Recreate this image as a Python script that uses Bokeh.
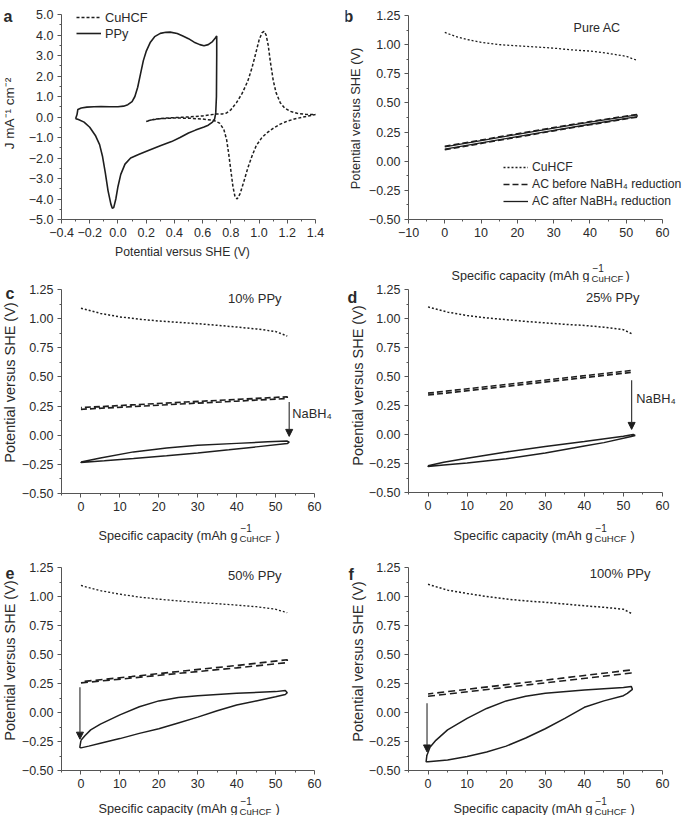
from math import pi
from bokeh.plotting import figure
from bokeh.models import (Range1d, FixedTicker, CustomJSTickFormatter, Label, Legend,
                          LegendItem, Arrow, NormalHead)
from bokeh.layouts import column, row
from bokeh.embed import file_html
from bokeh.resources import INLINE

# ---------------- data ----------------
# panel a : cyclic voltammograms
ppy_v = [-0.30, -0.29, -0.284, -0.26, -0.22, -0.17, -0.12, -0.06, 0.0, 0.04, 0.07, 0.10, 0.12,
         0.14, 0.16, 0.18, 0.20, 0.23, 0.26, 0.30, 0.34, 0.37, 0.42, 0.46, 0.50, 0.54, 0.58,
         0.61, 0.64, 0.67, 0.69, 0.70,
         0.70, 0.698, 0.693, 0.685, 0.67, 0.64, 0.61, 0.55, 0.50, 0.44, 0.38, 0.30, 0.22, 0.15,
         0.09, 0.05, 0.02, 0.0, -0.015, -0.03, -0.04, -0.05, -0.07, -0.09, -0.11, -0.13, -0.16,
         -0.20, -0.24, -0.28, -0.30]
ppy_j = [-0.08, 0.12, 0.37, 0.44, 0.48, 0.50, 0.51, 0.50, 0.50, 0.53, 0.60, 0.75, 1.0,
         1.45, 2.1, 2.75, 3.2, 3.65, 3.92, 4.08, 4.13, 4.14, 4.07, 3.95, 3.82, 3.65, 3.53,
         3.48, 3.53, 3.68, 3.85, 3.95,
         3.0, 1.0, 0.2, -0.1, -0.25, -0.4, -0.49, -0.64, -0.78, -1.0, -1.2, -1.4, -1.62, -1.82,
         -2.0, -2.3, -2.8, -3.4, -4.0, -4.42, -4.45, -4.25, -3.6, -2.7, -1.9, -1.35, -0.9,
         -0.5, -0.25, -0.12, -0.08]
cuhcf_v = [0.20, 0.25, 0.30, 0.40, 0.50, 0.60, 0.65, 0.70, 0.74, 0.77, 0.80, 0.84, 0.88, 0.92,
           0.95, 0.98, 1.00, 1.02, 1.035, 1.05, 1.065, 1.08, 1.10, 1.12, 1.15, 1.18, 1.22, 1.27,
           1.33, 1.40,
           1.35, 1.30, 1.25, 1.20, 1.15, 1.10, 1.06, 1.02, 0.98, 0.95, 0.92, 0.89, 0.865, 0.845,
           0.83, 0.815, 0.80, 0.785, 0.77, 0.75, 0.72, 0.68, 0.60, 0.50, 0.40, 0.30, 0.25, 0.20]
cuhcf_j = [-0.22, -0.12, -0.07, -0.03, 0.0, 0.05, 0.10, 0.15, 0.15, 0.20, 0.35, 0.70, 1.15, 1.75,
           2.4, 3.2, 3.75, 4.1, 4.18, 4.0, 3.5, 2.7, 1.8, 1.2, 0.7, 0.45, 0.28, 0.18,
           0.13, 0.12,
           0.05, -0.02, -0.10, -0.20, -0.35, -0.55, -0.75, -1.0, -1.4, -1.9, -2.5, -3.2, -3.75, -4.0,
           -3.9, -3.4, -2.6, -1.8, -1.1, -0.6, -0.3, -0.17, -0.10, -0.06, -0.05, -0.08, -0.13, -0.20]

# panel b : pure AC
b_cuhcf_x = [0, 3, 6, 10, 15, 20, 25, 30, 35, 40, 45, 50, 53]
b_cuhcf_y = [1.105, 1.07, 1.045, 1.02, 1.0, 0.99, 0.98, 0.97, 0.955, 0.945, 0.925, 0.90, 0.865]
b_ac_x = [0, 10, 20, 30, 40, 53, 53, 40, 30, 20, 10, 0]
b_before_y = [0.098, 0.152, 0.206, 0.26, 0.312, 0.378, 0.402, 0.34, 0.289, 0.236, 0.182, 0.128]
b_after_y = [0.103, 0.157, 0.211, 0.265, 0.317, 0.383, 0.397, 0.335, 0.284, 0.231, 0.177, 0.123]

# panel c : 10% PPy
c_cuhcf_x = [0, 5, 10, 15, 20, 25, 30, 35, 40, 45, 50, 53]
c_cuhcf_y = [1.09, 1.045, 1.015, 0.995, 0.98, 0.968, 0.957, 0.943, 0.928, 0.912, 0.89, 0.85]
c_before_x = [0, 13, 27, 40, 53, 53, 40, 27, 13, 0]
c_before_y = [0.222, 0.245, 0.27, 0.292, 0.315, 0.33, 0.307, 0.285, 0.26, 0.237]
c_after_x = [0, 5, 13.5, 22, 30, 40, 48, 53, 53.5, 53, 45, 38, 30, 22, 13.5, 6, 0, 0]
c_after_y = [-0.23, -0.195, -0.143, -0.11, -0.087, -0.07, -0.057, -0.05, -0.06, -0.072, -0.10,
             -0.125, -0.152, -0.176, -0.20, -0.22, -0.235, -0.23]

# panel d : 25% PPy
d_cuhcf_x = [0, 5, 10, 15, 20, 25, 30, 35, 40, 45, 50, 52.5]
d_cuhcf_y = [1.10, 1.055, 1.026, 1.005, 0.99, 0.975, 0.962, 0.95, 0.94, 0.925, 0.903, 0.863]
d_before_x = [0, 13, 26, 39, 52, 52, 39, 26, 13, 0]
d_before_y = [0.34, 0.388, 0.437, 0.486, 0.535, 0.552, 0.503, 0.454, 0.405, 0.357]
d_after_x = [0, 4, 10, 20, 30, 40, 50, 52.5, 53, 52, 45, 40, 30, 20, 10, 4, 0, 0]
d_after_y = [-0.27, -0.24, -0.205, -0.15, -0.103, -0.06, -0.015, 0.0, -0.008, -0.018, -0.07,
             -0.10, -0.16, -0.21, -0.245, -0.262, -0.275, -0.27]

# panel e : 50% PPy
e_cuhcf_x = [0, 5, 10, 15, 20, 25, 30, 35, 40, 45, 50, 53]
e_cuhcf_y = [1.095, 1.05, 1.02, 0.995, 0.977, 0.962, 0.949, 0.938, 0.926, 0.912, 0.89, 0.86]
e_before_x = [0, 13, 26, 40, 53, 53, 40, 26, 13, 0]
e_before_y = [0.255, 0.297, 0.34, 0.385, 0.43, 0.455, 0.405, 0.357, 0.31, 0.265]
e_after_x = [0, 1, 2.5, 5, 10, 15, 20, 25, 30, 40, 50, 52.5, 53, 52.5, 50, 45, 40, 35, 30, 25,
             20, 15, 10, 5, 2, 0, -0.3, 0]
e_after_y = [-0.24, -0.20, -0.15, -0.10, -0.02, 0.05, 0.10, 0.13, 0.145, 0.165, 0.18, 0.19, 0.17,
             0.155, 0.135, 0.10, 0.065, 0.015, -0.04, -0.09, -0.14, -0.18, -0.225, -0.265, -0.29,
             -0.305, -0.30, -0.24]

# panel f : 100% PPy
f_cuhcf_x = [0, 5, 10, 15, 20, 25, 30, 35, 40, 45, 50, 52]
f_cuhcf_y = [1.105, 1.055, 1.026, 1.0, 0.978, 0.962, 0.95, 0.935, 0.92, 0.907, 0.89, 0.855]
f_before_x = [0, 13, 26, 39, 52, 52, 39, 26, 13, 0]
f_before_y = [0.14, 0.19, 0.24, 0.29, 0.34, 0.367, 0.315, 0.263, 0.212, 0.16]
f_after_x = [-0.3, 0.5, 2, 5, 10, 15, 20, 25, 30, 40, 50, 52, 52.3, 51, 50, 45, 40, 35, 30, 25,
             20, 15, 10, 5, 0, -0.5, -0.3]
f_after_y = [-0.37, -0.30, -0.24, -0.15, -0.05, 0.035, 0.10, 0.14, 0.165, 0.195, 0.215, 0.225,
             0.20, 0.165, 0.145, 0.10, 0.045, -0.05, -0.14, -0.22, -0.29, -0.34, -0.38, -0.41,
             -0.425, -0.425, -0.37]

panel_titles = ["Pure AC", "10% PPy", "25% PPy", "50% PPy", "100% PPy"]
legend_a = ["CuHCF", "PPy"]
legend_b = ["CuHCF", "AC before NaBH\u2084 reduction", "AC after NaBH\u2084 reduction"]
cap_ticks = [-10, 0, 10, 20, 30, 40, 50, 60]
cap_minor = [-5, 5, 15, 25, 35, 45, 55]
pot_ticks = [-0.5, -0.25, 0.0, 0.25, 0.5, 0.75, 1.0, 1.25]
pot_minor = [-0.375, -0.125, 0.125, 0.375, 0.625, 0.875, 1.125]
cv_x_ticks = [-0.4, -0.2, 0.0, 0.2, 0.4, 0.6, 0.8, 1.0, 1.2, 1.4]
cv_x_minor = [-0.3, -0.1, 0.1, 0.3, 0.5, 0.7, 0.9, 1.1, 1.3]
cv_y_ticks = [-5, -4, -3, -2, -1, 0, 1, 2, 3, 4, 5]
cv_y_minor = [-4.5, -3.5, -2.5, -1.5, -0.5, 0.5, 1.5, 2.5, 3.5, 4.5]

# ---------------- layout & styling ----------------
FONT = "Liberation Sans"
INK = "#1e1e1e"
AX = "#555555"
TXT = "#2a2a2a"
DOT = "2 2"

COL_X = [0, 345]
COL_W = [345, 339]
# (top, height) of each figure, per column
LEFT_ROWS = [(0, 270), (270, 278), (548, 267)]
RIGHT_ROWS = [(0, 282), (282, 266), (548, 267)]


def fmt(decimals):
    return CustomJSTickFormatter(code="""
        const s = Math.abs(tick).toFixed(%d);
        return (tick < -1e-9 ? '\\u2212' : '') + s;
    """ % decimals)


class Panel:
    def __init__(self, col, rowspec, xlim, xpix, ylim, ypix, xt, xm, yt, ym, xdec, ydec,
                 tick_size="12.5px"):
        self.X0, self.W = COL_X[col], COL_W[col]
        self.Y0, self.H = rowspec
        (v1, v2), (p1, p2) = xlim, xpix
        sx = (p2 - p1) / (v2 - v1)
        xs = v1 - (p1 - self.X0) / sx
        xe = v2 + (self.X0 + self.W - p2) / sx
        (ybot, ytop), (qtop, qbot) = ylim, ypix
        sy = (qbot - qtop) / (ytop - ybot)
        ye = ytop + (qtop - self.Y0) / sy
        ys = ybot - (self.Y0 + self.H - qbot) / sy
        p = figure(width=self.W, height=self.H, x_range=Range1d(xs, xe),
                   y_range=Range1d(ys, ye), output_backend="svg", toolbar_location=None,
                   min_border=0)
        p.outline_line_color = None
        p.grid.visible = False
        p.background_fill_color = "white"
        p.border_fill_color = "white"
        p.xaxis.fixed_location = ybot
        p.yaxis.fixed_location = v1
        p.xaxis.bounds = (v1, v2)
        p.yaxis.bounds = (ybot, ytop)
        p.xaxis.ticker = FixedTicker(ticks=xt, minor_ticks=xm)
        p.yaxis.ticker = FixedTicker(ticks=yt, minor_ticks=ym)
        p.xaxis.formatter = fmt(xdec)
        p.yaxis.formatter = fmt(ydec)
        for ax in (p.xaxis[0], p.yaxis[0]):
            ax.axis_line_color = AX
            ax.axis_line_width = 1
            ax.major_tick_line_color = AX
            ax.minor_tick_line_color = AX
            ax.major_tick_out = 4
            ax.major_tick_in = 0
            ax.minor_tick_out = 2
            ax.minor_tick_in = 0
            ax.major_label_text_font = FONT
            ax.major_label_text_font_size = tick_size
            ax.major_label_text_color = TXT
            ax.major_label_standoff = 4
        self.p = p

    # texts placed by page position (converted to screen units of this figure)
    def text(self, s, ax, ay, size="12.5px", align="left", baseline="middle", angle=0.0,
             bold=False):
        self.p.add_layout(Label(x=ax - self.X0, y=self.Y0 + self.H - ay, x_units="screen",
                                y_units="screen", text=s, text_font=FONT, text_font_size=size,
                                text_align=align, text_baseline=baseline, angle=angle,
                                text_color=TXT,
                                text_font_style="bold" if bold else "normal"))

    def dtext(self, s, x, y, size="12.8px"):
        self.p.add_layout(Label(x=x, y=y, text=s, text_font=FONT, text_font_size=size,
                                text_align="left", text_baseline="middle", text_color=TXT))

    def letter(self, s, ax, ay):
        self.text(s, ax, ay, size="16px", bold=True, baseline="alphabetic")

    def ylabel(self, s, ax, ay, size):
        self.text(s, ax, ay, size=size, align="center", angle=pi / 2)

    def cap_label(self, xr, base, size="12.7px", close=38):
        self.text("Specific capacity (mAh g", xr, base, size=size, align="right",
                  baseline="alphabetic")
        self.text("\u22121", xr + 3, base - 8, size="10px", baseline="alphabetic")
        self.text("CuHCF", xr + 2, base + 2.5, size="9.6px", baseline="alphabetic")
        self.text(")", xr + close, base, size=size, baseline="alphabetic")

    def arrow(self, x0, y0, x1, y1):
        self.p.add_layout(Arrow(end=NormalHead(size=7, fill_color=INK, line_color=INK,
                                               line_width=1),
                                x_start=x0, y_start=y0, x_end=x1, y_end=y1,
                                line_color="#3a3a3a", line_width=1.2))

    def legend(self, items, ax_left, ay_bottom, size, spacing):
        self.p.add_layout(Legend(items=items, location=(ax_left - self.X0,
                                                        self.Y0 + self.H - ay_bottom),
                                 glyph_width=25, glyph_height=16, label_height=16,
                                 label_standoff=4, spacing=spacing, padding=0, margin=0,
                                 label_text_font=FONT, label_text_font_size=size,
                                 label_text_color=TXT, background_fill_alpha=0,
                                 border_line_alpha=0))


# ---------------- panel a ----------------
A = Panel(0, LEFT_ROWS[0], (-0.4, 1.4), (61, 315), (-5, 5), (14, 219), cv_x_ticks, cv_x_minor,
          cv_y_ticks, cv_y_minor, 1, 1, tick_size="12.5px")
ra1 = A.p.line(cuhcf_v, cuhcf_j, line_color=INK, line_width=1.5, line_dash="3 2")
ra2 = A.p.line(ppy_v, ppy_j, line_color=INK, line_width=1.6)
A.legend([LegendItem(label=legend_a[0], renderers=[ra1]),
          LegendItem(label=legend_a[1], renderers=[ra2])], 76, 41, "12.8px", 0)
A.letter("a", 3, 15.5)
A.ylabel("J mA\u207b\u00b9 cm\u207b\u00b2", 9, 113, "13.5px")
A.text("Potential versus SHE (V)", 182, 251, size="12.2px", align="center",
       baseline="alphabetic")

# ---------------- panel b ----------------
B = Panel(1, RIGHT_ROWS[0], (-10, 60), (408, 662), (-0.5, 1.25), (15, 219), cap_ticks,
          cap_minor, pot_ticks, pot_minor, 0, 2)
rb1 = B.p.line(b_cuhcf_x, b_cuhcf_y, line_color=INK, line_width=1.3, line_dash=DOT)
rb2 = B.p.line(b_ac_x, b_before_y, line_color=INK, line_width=1.5, line_dash="6 3")
rb3 = B.p.line(b_ac_x, b_after_y, line_color=INK, line_width=1.3)
B.legend([LegendItem(label=legend_b[0], renderers=[rb1]),
          LegendItem(label=legend_b[1], renderers=[rb2]),
          LegendItem(label=legend_b[2], renderers=[rb3])], 503, 209, "12.2px", 1)
B.dtext(panel_titles[0], 35.5, 1.147, size="12.5px")
B.letter("b", 343, 15.5)
B.ylabel("Potential versus SHE (V)", 355, 118, "12.8px")
B.cap_label(589, 275, size="12.6px", close=36)

# ---------------- panel c ----------------
C = Panel(0, LEFT_ROWS[1], (-5, 60), (61, 314), (-0.5, 1.25), (289, 493), cap_ticks[1:],
          cap_minor, pot_ticks, pot_minor, 0, 2)
C.p.line(c_cuhcf_x, c_cuhcf_y, line_color=INK, line_width=1.5, line_dash=DOT)
C.p.line(c_before_x, c_before_y, line_color=INK, line_width=1.6, line_dash="6 3")
C.p.line(c_after_x, c_after_y, line_color=INK, line_width=1.5)
C.arrow(53.5, 0.285, 53.5, -0.01)
C.dtext("NaBH\u2084", 54.3, 0.185)
C.dtext(panel_titles[1], 37.8, 1.17, size="13px")
C.letter("c", 5, 293)
C.ylabel("Potential versus SHE (V)", 9.5, 382, "14.5px")
C.cap_label(237, 535)

# ---------------- panel d ----------------
D = Panel(1, RIGHT_ROWS[1], (-5, 60), (408, 662), (-0.5, 1.25), (289, 492), cap_ticks[1:],
          cap_minor, pot_ticks, pot_minor, 0, 2)
D.p.line(d_cuhcf_x, d_cuhcf_y, line_color=INK, line_width=1.5, line_dash=DOT)
D.p.line(d_before_x, d_before_y, line_color=INK, line_width=1.6, line_dash="6 3")
D.p.line(d_after_x, d_after_y, line_color=INK, line_width=1.5)
D.arrow(52.1, 0.467, 52.1, 0.044)
D.dtext("NaBH\u2084", 53.3, 0.31)
D.dtext(panel_titles[2], 40.4, 1.18, size="13px")
D.letter("d", 347, 297)
D.ylabel("Potential versus SHE (V)", 357, 385, "14.5px")
D.cap_label(592, 535)

# ---------------- panel e ----------------
E = Panel(0, LEFT_ROWS[2], (-5, 60), (61, 314), (-0.5, 1.25), (567, 770), cap_ticks[1:],
          cap_minor, pot_ticks, pot_minor, 0, 2)
E.p.line(e_cuhcf_x, e_cuhcf_y, line_color=INK, line_width=1.3, line_dash=DOT)
E.p.line(e_before_x, e_before_y, line_color=INK, line_width=1.6, line_dash="7 4")
E.p.line(e_after_x, e_after_y, line_color=INK, line_width=1.5)
E.arrow(-0.26, 0.217, -0.26, -0.23)
E.dtext(panel_titles[3], 37.8, 1.18, size="13px")
E.letter("e", 5, 572)
E.ylabel("Potential versus SHE (V)", 9.5, 660, "14.5px")
E.cap_label(237, 808)

# ---------------- panel f ----------------
F = Panel(1, RIGHT_ROWS[2], (-5, 60), (408, 662), (-0.5, 1.25), (567, 770), cap_ticks[1:],
          cap_minor, pot_ticks, pot_minor, 0, 2)
F.p.line(f_cuhcf_x, f_cuhcf_y, line_color=INK, line_width=1.5, line_dash=DOT)
F.p.line(f_before_x, f_before_y, line_color=INK, line_width=1.6, line_dash="7 4")
F.p.line(f_after_x, f_after_y, line_color=INK, line_width=1.5)
F.arrow(-0.26, 0.08, -0.26, -0.34)
F.dtext(panel_titles[4], 41.4, 1.2, size="13px")
F.letter("f", 348, 574)
F.ylabel("Potential versus SHE (V)", 357, 661, "14.5px")
F.cap_label(592, 808)

layout = row(column(A.p, C.p, E.p), column(B.p, D.p, F.p))

open("out.html", "w").write(file_html(layout, INLINE))
